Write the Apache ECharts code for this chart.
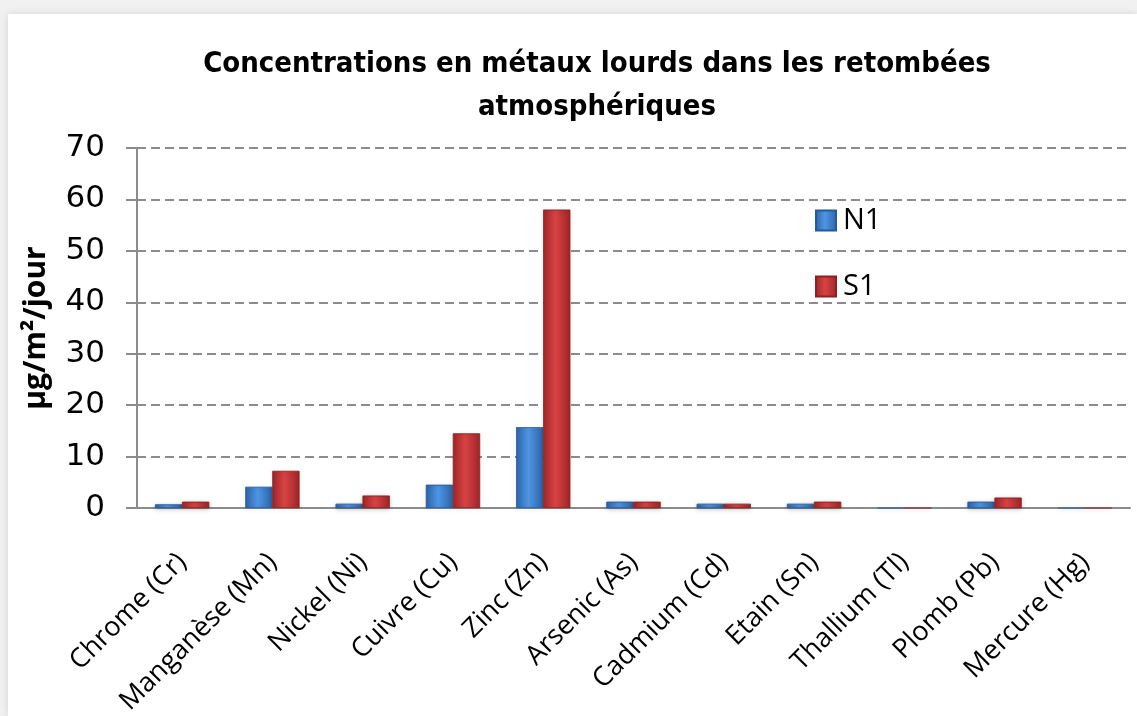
<!DOCTYPE html>
<html>
<head>
<meta charset="utf-8">
<style>
  html, body { margin: 0; padding: 0; background: #fff; }
  #myChart { width: 1137px; height: 716px; }
</style>
<script src="https://cdn.jsdelivr.net/npm/echarts@6/dist/echarts.min.js"></script>
</head>
<body>
<div id="myChart"></div>
<script>
// categories and values
const metals = ['Chrome (Cr)', 'Manganèse (Mn)', 'Nickel (Ni)', 'Cuivre (Cu)', 'Zinc (Zn)', 'Arsenic (As)',
  'Cadmium (Cd)', 'Etain (Sn)', 'Thallium (Tl)', 'Plomb (Pb)', 'Mercure (Hg)']
const n1Values = [0.7, 4.1, 0.8, 4.5, 15.7, 1.2, 0.8, 0.8, 0, 1.2, 0]
const s1Values = [1.2, 7.2, 2.4, 14.5, 58, 1.2, 0.8, 1.2, 0, 2.0, 0]
const yTicks = { min: 0, max: 70, interval: 10 }

function barGradient(dark, light) {
  return new echarts.graphic.LinearGradient(0, 0, 1, 0, [
    { offset: 0, color: dark },
    { offset: 0.45, color: light },
    { offset: 1, color: dark },
  ])
}

let myChart = echarts.init(document.getElementById('myChart'))
myChart.setOption({
  backgroundColor: '#f1f1f1',
  graphic: [
    {
      type: 'rect',
      left: 8,
      top: 14,
      z: -10,
      shape: { width: 1129, height: 702 },
      style: { fill: '#fff', shadowBlur: 8, shadowColor: 'rgba(0,0,0,0.12)' },
    },
  ],
  title: {
    text: 'Concentrations en métaux lourds dans les retombées\natmosphériques',
    left: 592,
    textAlign: 'center',
    top: 38,
    textStyle: {
      fontFamily: "'Liberation Sans Narrow', 'DejaVu Sans Condensed', sans-serif",
      fontSize: 29,
      fontWeight: 'bold',
      color: '#000',
      lineHeight: 43,
    },
  },
  legend: {
    orient: 'vertical',
    left: 815,
    top: 206,
    padding: 0,
    icon: 'rect',
    itemWidth: 20,
    itemHeight: 20,
    itemGap: 37,
    textStyle: { fontFamily: "'Open Sans', sans-serif", fontSize: 29, lineHeight: 26, color: '#000', padding: [0, 0, 0, 2] },
    data: ['N1', 'S1'],
  },
  grid: {
    left: 137,
    right: 7,
    top: 148,
    bottom: 208,
    outerBoundsMode: 'none',
  },
  xAxis: {
    type: 'category',
    data: metals,
    axisTick: { show: false },
    axisLine: { lineStyle: { color: '#8c8c8c', width: 2 } },
    axisLabel: {
      rotate: 45,
      interval: 0,
      margin: 50,
      padding: [72, 0, 0, 0],
      fontFamily: "'Open Sans', sans-serif",
      fontSize: 27,
      color: '#000',
    },
  },
  yAxis: {
    type: 'value',
    min: yTicks.min,
    max: yTicks.max,
    interval: yTicks.interval,
    name: 'µg/m²/jour',
    nameLocation: 'middle',
    nameGap: 86,
    nameTextStyle: {
      fontFamily: "'Open Sans', sans-serif",
      fontSize: 30,
      fontWeight: 'bold',
      color: '#000',
    },
    axisLine: { show: true, lineStyle: { color: '#8c8c8c', width: 2 } },
    axisTick: { show: true, length: 11, lineStyle: { color: '#8c8c8c', width: 2 } },
    axisLabel: {
      margin: 32,
      fontFamily: "'DejaVu Sans', sans-serif",
      fontSize: 31,
      color: '#000',
    },
    splitLine: {
      show: true,
      lineStyle: { color: '#8c8c8c', width: 2, type: [9, 5] },
    },
  },
  series: [
    {
      name: 'N1',
      type: 'bar',
      data: n1Values,
      barWidth: 27,
      barGap: '0%',
      itemStyle: {
        color: barGradient('#2c64a8', '#4f95e4'),
        borderColor: '#255a98',
        borderWidth: 0.5,
        shadowBlur: 4,
        shadowColor: 'rgba(0,0,0,0.25)',
        shadowOffsetY: 1,
      },
    },
    {
      name: 'S1',
      type: 'bar',
      data: s1Values,
      barWidth: 27,
      itemStyle: {
        color: barGradient('#a02628', '#d84343'),
        borderColor: '#8c2022',
        borderWidth: 0.5,
        shadowBlur: 4,
        shadowColor: 'rgba(0,0,0,0.25)',
        shadowOffsetY: 1,
      },
    },
  ],
})
</script>
</body>
</html>
